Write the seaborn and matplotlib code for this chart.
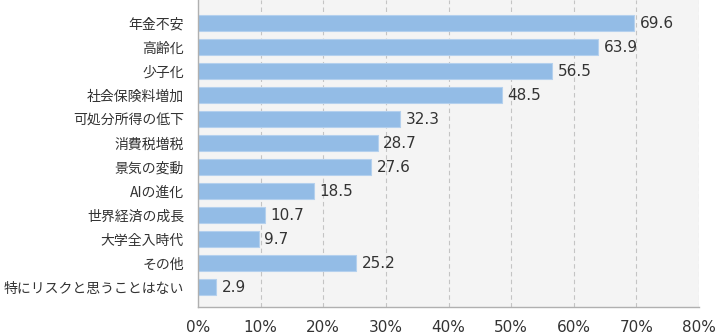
import matplotlib
matplotlib.use("Agg")
import matplotlib.pyplot as plt
import seaborn as sns
import pandas as pd

categories = ["年金不安", "高齢化", "少子化", "社会保険料増加", "可処分所得の低下",
              "消費税増税", "景気の変動", "AIの進化", "世界経済の成長", "大学全入時代",
              "その他", "特にリスクと思うことはない"]
values = [69.6, 63.9, 56.5, 48.5, 32.3, 28.7, 27.6, 18.5, 10.7, 9.7, 25.2, 2.9]
tick_values = [0, 10, 20, 30, 40, 50, 60, 70, 80]
tick_labels = [f"{v}%" for v in tick_values]

sns.set_theme(style="white")
plt.rcParams["font.family"] = ["Noto Sans CJK JP", "DejaVu Sans"]

df = pd.DataFrame({"category": categories, "value": values})

fig = plt.figure(figsize=(7.17, 3.34), dpi=100)
ax = fig.add_axes([198 / 717, 27 / 334, 501 / 717, 1 - 27 / 334])
ax.set_facecolor("#f4f4f4")

sns.barplot(data=df, x="value", y="category", orient="h", color="#93bce6",
            saturation=1, width=0.65, edgecolor="#b4d0ee", linewidth=0.8, ax=ax)

for i, v in enumerate(values):
    ax.text(v + 0.9, i, f"{v}", va="center", ha="left", fontsize=11,
            family="DejaVu Sans", color="#333333")

ax.set_xlim(0, 80)
ax.set_ylim(11.83, -0.96)
ax.set_xticks(tick_values)
ax.set_xticklabels(tick_labels, fontsize=11, family="DejaVu Sans", color="#333333")
ax.tick_params(axis="x", length=0, pad=9)
ax.tick_params(axis="y", length=0, pad=10, labelsize=10, labelcolor="#333333")
ax.set_xlabel("")
ax.set_ylabel("")

ax.set_axisbelow(True)
for t in tick_values[1:]:
    ax.axvline(t, color="#c4c4c4", linestyle=(0, (4, 3)), linewidth=0.8, zorder=0)

for side in ["top", "right"]:
    ax.spines[side].set_visible(False)
for side in ["left", "bottom"]:
    ax.spines[side].set_color("#b0b0b0")
    ax.spines[side].set_linewidth(1.0)

fig.savefig("out.png", dpi=100)
